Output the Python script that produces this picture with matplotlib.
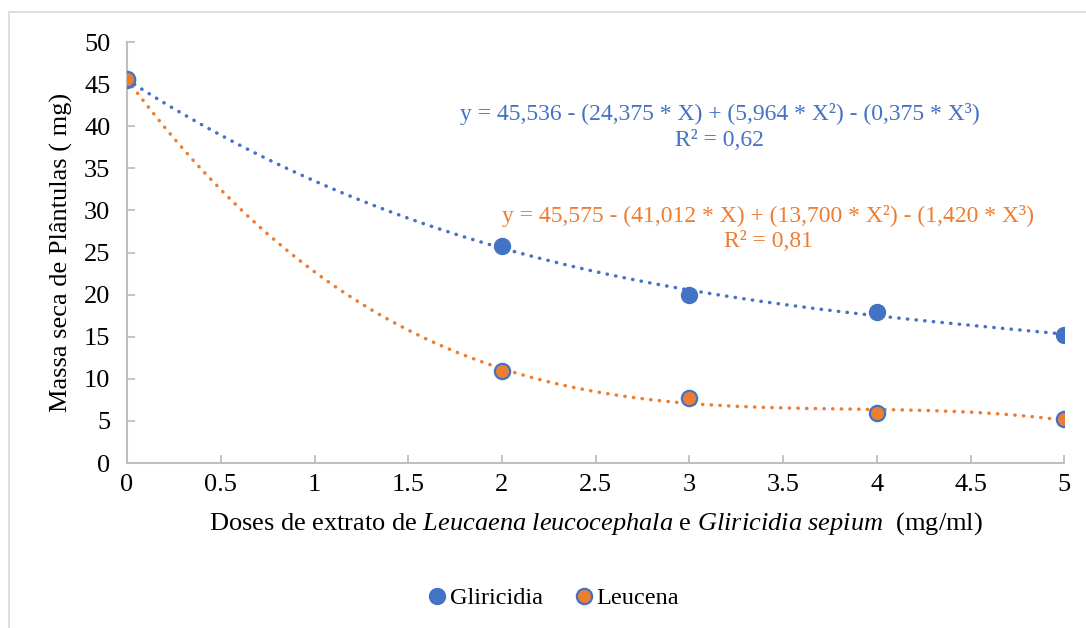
import numpy as np
import matplotlib.pyplot as plt
from matplotlib.patches import Rectangle

plt.rcParams['font.family'] = ['Liberation Serif', 'DejaVu Serif']
plt.rcParams['mathtext.fontset'] = 'custom'
plt.rcParams['mathtext.rm'] = 'Liberation Serif'
plt.rcParams['mathtext.it'] = 'Liberation Serif:italic'

# doses (mg/ml) and seedling dry mass (mg)
doses = [0, 2, 3, 4, 5]
gliricidia = [45.5, 25.8, 20.0, 17.9, 15.2]
leucena = [45.6, 10.9, 7.7, 5.9, 5.2]

x_ticks = [0, 0.5, 1, 1.5, 2, 2.5, 3, 3.5, 4, 4.5, 5]
x_ticklabels = ["0", "0.5", "1", "1.5", "2", "2.5", "3", "3.5", "4", "4.5", "5"]
y_ticks = [0, 5, 10, 15, 20, 25, 30, 35, 40, 45, 50]

eq_glir = "y = 45,536 - (24,375 * X) + (5,964 * X²) - (0,375 * X³)\nR² = 0,62"
eq_leuc = "y = 45,575 - (41,012 * X) + (13,700 * X²) - (1,420 * X³)\nR² = 0,81"

blue = "#4472C4"
orange = "#ED7D31"

fig = plt.figure(figsize=(10.86, 6.28), dpi=100)
ax = fig.add_axes([0.117, 0.2627, 0.863, 0.6703])

# chart border
fig.patches.append(Rectangle((9 / 1086, -0.1), 1.2, 1.1 - 12 / 628,
                             transform=fig.transFigure, fill=False,
                             edgecolor="#D9D9D9", linewidth=1.2))

# cubic trend lines
xs = np.linspace(0, 5, 300)
for vals, col in [(gliricidia, blue), (leucena, orange)]:
    coef = np.polyfit(doses, vals, 3)
    ax.plot(xs, np.polyval(coef, xs), color=col, linewidth=2.5,
            linestyle=(0, (0.1, 2.4)), dash_capstyle="round", zorder=2)

ax.plot(doses, gliricidia, "o", color=blue, markersize=11.5, label="Gliricidia", zorder=3)
ax.plot(doses, leucena, "o", markerfacecolor=orange, markeredgecolor=blue,
        markeredgewidth=1.6, markersize=11, label="Leucena", zorder=4)

ax.set_xlim(0, 5)
ax.set_ylim(0, 50)
ax.set_xticks(x_ticks)
ax.set_xticklabels(x_ticklabels)
ax.set_yticks(y_ticks)
ax.tick_params(direction="in", length=6, width=1.3, color="#BFBFBF",
               labelsize=19, pad=8)
ax.tick_params(axis="y", pad=12)
for side in ["top", "right"]:
    ax.spines[side].set_visible(False)
for side in ["left", "bottom"]:
    ax.spines[side].set_color("#BFBFBF")
    ax.spines[side].set_linewidth(1.5)

ax.set_ylabel("Massa seca de Plântulas ( mg)", fontsize=19, labelpad=8)
ax.set_xlabel(r"Doses de extrato de $\mathit{Leucaena\ leucocephala}$ e "
              r"$\mathit{Gliricidia\ sepium}$  (mg/ml)", fontsize=19, labelpad=10)

ax.text(3.16, 39.9, eq_glir, color=blue, fontsize=17, ha="center", va="center",
        linespacing=1.35)
ax.text(3.42, 27.8, eq_leuc, color=orange, fontsize=17, ha="center", va="center",
        linespacing=1.25)

fig.legend(loc="center", bbox_to_anchor=(552 / 1086, 1 - 598 / 628), ncol=2,
           frameon=False, fontsize=17.5, handletextpad=0.0, columnspacing=1.2,
           handlelength=1.0)

fig.savefig("out.png", dpi=100, facecolor="white")
